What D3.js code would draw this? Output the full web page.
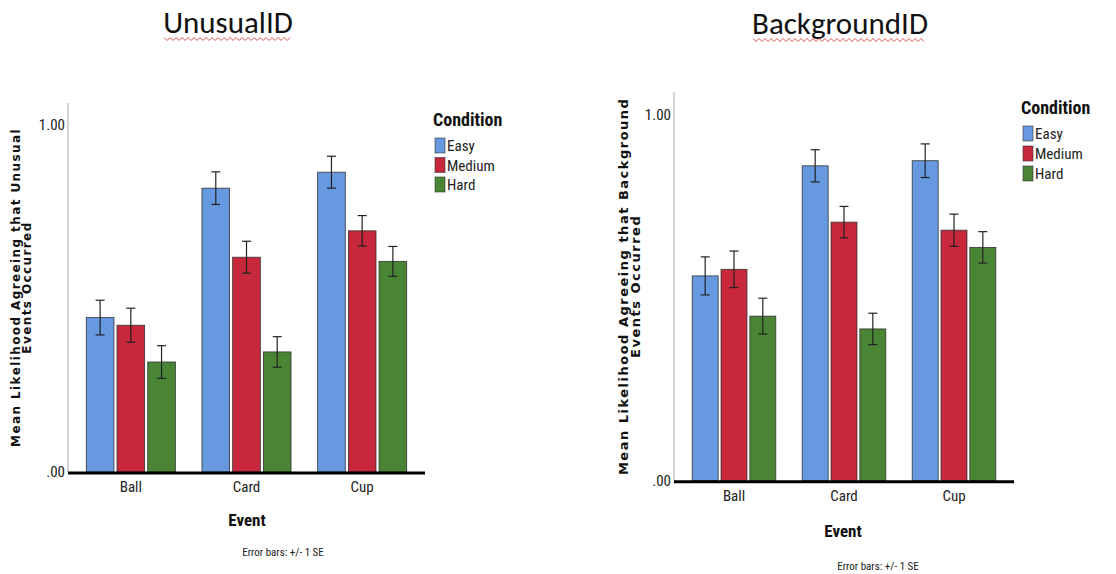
<!DOCTYPE html>
<html>
<head>
<meta charset="utf-8">
<script src="https://cdn.jsdelivr.net/npm/d3@7"></script>
<style>
  html, body { margin: 0; padding: 0; background: #fff; }
  svg { display: block; }
  .narrow { font-family: "Liberation Sans Narrow", "Roboto Condensed", "Liberation Sans", sans-serif; }
</style>
</head>
<body>
<svg id="chart" width="1116" height="574"></svg>
<script>
// data
const events = ["Ball", "Card", "Cup"];
const conditions = ["Easy", "Medium", "Hard"];
const colors = ["#6699e0", "#c8283c", "#4a8535"];

const unusualEasy = [0.445, 0.818, 0.864];
const unusualMedium = [0.423, 0.619, 0.695];
const unusualHard = [0.317, 0.346, 0.607];
const unusualEasySE = [0.050, 0.047, 0.046];
const unusualMediumSE = [0.049, 0.046, 0.044];
const unusualHardSE = [0.047, 0.044, 0.043];

const backgroundEasy = [0.560, 0.861, 0.875];
const backgroundMedium = [0.578, 0.707, 0.685];
const backgroundHard = [0.450, 0.415, 0.638];
const backgroundEasySE = [0.052, 0.044, 0.046];
const backgroundMediumSE = [0.050, 0.043, 0.044];
const backgroundHardSE = [0.049, 0.043, 0.043];

const yTicks = [0, 1];
const yTickLabels = [".00", "1.00"];

const svg = d3.select("#chart");

function buildRows(means, ses) {
  const rows = [];
  events.forEach((ev, i) => {
    conditions.forEach((c, j) => {
      rows.push({ event: ev, cond: c, ci: j, mean: means[j][i], se: ses[j][i] });
    });
  });
  return rows;
}

function squiggle(g, x0, x1, y) {
  const pts = [];
  let up = true;
  for (let x = x0; x <= x1; x += 3) {
    pts.push([x, up ? y - 1.5 : y + 1.5]);
    up = !up;
  }
  g.append("path")
    .attr("d", d3.line()(pts))
    .attr("fill", "none")
    .attr("stroke", "#e05050")
    .attr("stroke-width", 1);
}

function drawPanel(cfg) {
  const g = svg.append("g");

  // slide title (Word style, with spellcheck squiggle)
  const t = g.append("text")
    .attr("x", cfg.titleX)
    .attr("y", cfg.titleY)
    .attr("text-anchor", "middle")
    .attr("font-family", "Carlito, Lato, sans-serif")
    .attr("font-size", 31)
    .attr("fill", "#111")
    .text(cfg.title);
  const bb = t.node().getBBox();
  squiggle(g, bb.x + 1, bb.x + bb.width - 1, cfg.titleY + 6);

  const y = d3.scaleLinear().domain([0, 1]).range([cfg.y0, cfg.y1]);
  const x = d3.scaleBand().domain(events)
    .range([cfg.xr0, cfg.xr1]).paddingInner(cfg.padIn).paddingOuter(cfg.padOut);
  const xc = d3.scaleBand().domain(conditions)
    .range([0, x.bandwidth()]).paddingInner(0.1);

  // thin y axis line, extends above 1.00
  g.append("line")
    .attr("x1", cfg.xr0 - 5).attr("x2", cfg.xr0 - 5)
    .attr("y1", cfg.yTop).attr("y2", cfg.y0)
    .attr("stroke", "#aaa").attr("stroke-width", 1);

  const yAxis = g.append("g")
    .attr("transform", `translate(${cfg.xr0 - 5},0)`)
    .call(d3.axisLeft(y).tickValues(yTicks)
      .tickFormat((d, i) => yTickLabels[i]).tickSize(0).tickPadding(3));
  yAxis.select(".domain").remove();
  yAxis.selectAll("text")
    .attr("class", "narrow")
    .attr("font-size", 15)
    .attr("fill", "#222");

  const rows = buildRows(cfg.means, cfg.ses);

  const bars = g.append("g").selectAll("g")
    .data(rows).enter().append("g")
    .attr("transform", d => `translate(${x(d.event) + xc(d.cond)},0)`);

  bars.append("rect")
    .attr("x", 0)
    .attr("y", d => y(d.mean))
    .attr("width", xc.bandwidth())
    .attr("height", d => y(0) - y(d.mean))
    .attr("fill", d => colors[d.ci])
    .attr("stroke", "#333")
    .attr("stroke-width", 0.8);

  const cx = xc.bandwidth() / 2;
  bars.append("line")
    .attr("x1", cx).attr("x2", cx)
    .attr("y1", d => y(d.mean + d.se)).attr("y2", d => y(d.mean - d.se))
    .attr("stroke", "#222").attr("stroke-width", 1.2);
  bars.append("line")
    .attr("x1", cx - 4.5).attr("x2", cx + 4.5)
    .attr("y1", d => y(d.mean + d.se)).attr("y2", d => y(d.mean + d.se))
    .attr("stroke", "#222").attr("stroke-width", 1.2);
  bars.append("line")
    .attr("x1", cx - 4.5).attr("x2", cx + 4.5)
    .attr("y1", d => y(d.mean - d.se)).attr("y2", d => y(d.mean - d.se))
    .attr("stroke", "#222").attr("stroke-width", 1.2);

  // thick baseline + category labels
  g.append("line")
    .attr("x1", cfg.xr0 - 5).attr("x2", cfg.xr1 + 5)
    .attr("y1", cfg.y0 + 1).attr("y2", cfg.y0 + 1)
    .attr("stroke", "#000").attr("stroke-width", 3);

  const xAxis = g.append("g")
    .attr("transform", `translate(0,${cfg.y0})`)
    .call(d3.axisBottom(x).tickSize(0).tickPadding(cfg.xPad));
  xAxis.select(".domain").remove();
  xAxis.selectAll("text")
    .attr("class", "narrow")
    .attr("font-size", 15)
    .attr("fill", "#222");

  // axis titles
  g.append("text")
    .attr("class", "narrow")
    .attr("x", cfg.eventX).attr("y", cfg.eventY)
    .attr("text-anchor", "middle")
    .attr("font-size", 17).attr("font-weight", "bold")
    .attr("fill", "#111")
    .text("Event");

  const yMid = (cfg.yTop + cfg.y0) / 2;
  const yt = g.append("text")
    .attr("transform", `translate(${cfg.yTitleX},${yMid}) rotate(-90)`)
    .attr("text-anchor", "middle")
    .attr("font-family", "DejaVu Sans, Verdana, sans-serif")
    .attr("font-weight", "bold")
    .attr("font-size", cfg.yTitleSize)
    .attr("letter-spacing", cfg.yTitleSpacing)
    .attr("fill", "#111");
  yt.append("tspan").attr("x", 0).attr("dy", 0).text(cfg.yTitle1);
  yt.append("tspan").attr("x", 0).attr("dy", cfg.yTitleSize * 0.95).text(cfg.yTitle2);

  g.append("text")
    .attr("class", "narrow")
    .attr("x", cfg.noteX).attr("y", cfg.noteY)
    .attr("text-anchor", "middle")
    .attr("font-size", 11)
    .attr("fill", "#222")
    .text("Error bars: +/- 1 SE");

  // legend
  const lg = g.append("g").attr("transform", `translate(${cfg.legX},${cfg.legY})`);
  lg.append("text")
    .attr("class", "narrow")
    .attr("x", -2).attr("y", 0)
    .attr("font-size", 18).attr("font-weight", "bold")
    .attr("fill", "#111")
    .text("Condition");
  const items = lg.selectAll("g.item").data(conditions).enter().append("g")
    .attr("class", "item")
    .attr("transform", (d, i) => `translate(0,${12 + i * cfg.legStep})`);
  items.append("rect")
    .attr("width", 10).attr("height", 15)
    .attr("fill", (d, i) => colors[i])
    .attr("stroke", "#333").attr("stroke-width", 0.6);
  items.append("text")
    .attr("class", "narrow")
    .attr("x", 12).attr("y", 13)
    .attr("font-size", 15)
    .attr("fill", "#222")
    .text(d => d);
}

drawPanel({
  title: "UnusualID", titleX: 228, titleY: 33,
  y0: 472, y1: 125, yTop: 103,
  xr0: 73, xr1: 420, padIn: 0.23, padOut: 0.115, xPad: 9,
  means: [unusualEasy, unusualMedium, unusualHard],
  ses: [unusualEasySE, unusualMediumSE, unusualHardSE],
  eventX: 247, eventY: 526,
  yTitleX: 20, yTitleSize: 12, yTitleSpacing: 1.4,
  yTitle1: "Mean Likelihood Agreeing that Unusual",
  yTitle2: "Events Occurred",
  noteX: 283, noteY: 556,
  legX: 435, legY: 126, legStep: 19.5
});

drawPanel({
  title: "BackgroundID", titleX: 840, titleY: 34,
  y0: 480.7, y1: 115, yTop: 92,
  xr0: 679, xr1: 1009, padIn: 0.24, padOut: 0.12, xPad: 10,
  means: [backgroundEasy, backgroundMedium, backgroundHard],
  ses: [backgroundEasySE, backgroundMediumSE, backgroundHardSE],
  eventX: 843, eventY: 537,
  yTitleX: 628, yTitleSize: 13, yTitleSpacing: 1.5,
  yTitle1: "Mean Likelihood Agreeing that Background",
  yTitle2: "Events Occurred",
  noteX: 878, noteY: 570,
  legX: 1023, legY: 114, legStep: 20
});
</script>
</body>
</html>
